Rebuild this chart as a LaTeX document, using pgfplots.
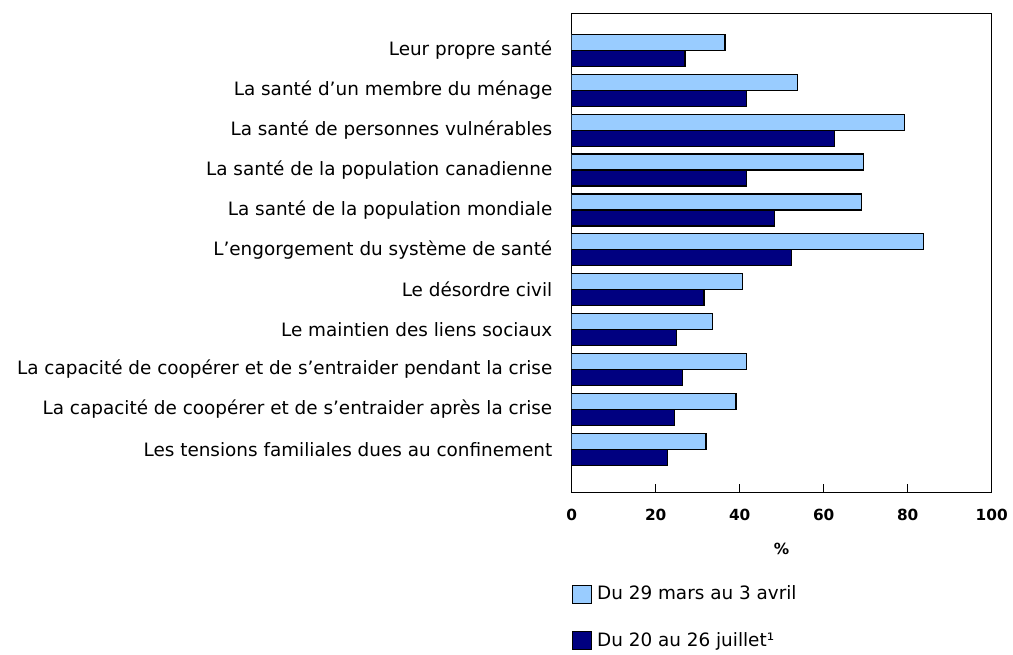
\documentclass[border=0pt]{standalone}
\usepackage{fontspec}
\setmainfont{DejaVu Sans}
\usepackage{pgfplots}
\pgfplotsset{compat=1.18}
\definecolor{lightbar}{RGB}{153,204,255}
\definecolor{darkbar}{RGB}{0,0,128}

\pgfplotstableread{
y first second
0  36.5 27.0
1  53.8 41.7
2  79.2 62.5
3  69.5 41.7
4  69.0 48.2
5  83.7 52.4
6  40.6 31.5
7  33.5 24.9
8  41.7 26.4
9  39.1 24.4
10 32.0 22.9
}\concerns

\begin{document}
\begin{tikzpicture}
\begin{axis}[
  scale only axis,
  width=315pt, height=359.25pt,
  xbar, bar width=12pt,
  xmin=0, xmax=100,
  ymin=-0.93, ymax=11.08,
  y dir=reverse,
  axis line style={line width=1.1pt},
  xtick={0,20,40,60,80,100},
  xtick pos=bottom, xtick align=inside,
  major tick length=6pt,
  tick style={line width=1.1pt, black},
  ytick={0,...,10},
  ytick style={draw=none},
  yticklabels={
    Leur propre santé,
    La santé d’un membre du ménage,
    La santé de personnes vulnérables,
    La santé de la population canadienne,
    La santé de la population mondiale,
    L’engorgement du système de santé,
    Le désordre civil,
    Le maintien des liens sociaux,
    La capacité de coopérer et de s’entraider pendant la crise,
    La capacité de coopérer et de s’entraider après la crise,
    Les tensions familiales dues au confinement},
  yticklabel style={font=\fontsize{13.8}{16}\selectfont, anchor=east, xshift=-5pt},
  /pgf/number format/assume math mode=true,
  xticklabel style={font=\fontsize{11.5}{13}\selectfont\bfseries, yshift=-9pt},
  xlabel={\textbf{\%}},
  xlabel style={font=\fontsize{11.5}{13}\selectfont, yshift=-10pt},
  legend style={at={(rel axis cs:0,0)}, yshift=-68pt, anchor=north west,
    draw=none, inner xsep=0pt, inner ysep=0pt, row sep=19pt,
    nodes={inner xsep=4pt},
    font=\fontsize{13.8}{16}\selectfont},
  legend cell align=left,
  legend image code/.code={\draw[#1, line width=0.9pt] (0pt,-7pt) rectangle (14pt,6.5pt);},
]
\addplot[draw=black, line width=0.9pt, fill=lightbar, bar shift=6pt] table[x=first, y=y] {\concerns};
\addlegendentry{Du 29 mars au 3 avril}
\addplot[draw=black, line width=0.9pt, fill=darkbar, bar shift=-6pt] table[x=second, y=y] {\concerns};
\addlegendentry{Du 20 au 26 juillet¹}
\end{axis}
\path (current axis.south west) ++(-428.8pt,-121.3pt) coordinate (bbA);
\path (current axis.south west) ++(331pt,369.25pt) coordinate (bbB);
\path[use as bounding box] (bbA) rectangle (bbB);
\end{tikzpicture}
\end{document}
